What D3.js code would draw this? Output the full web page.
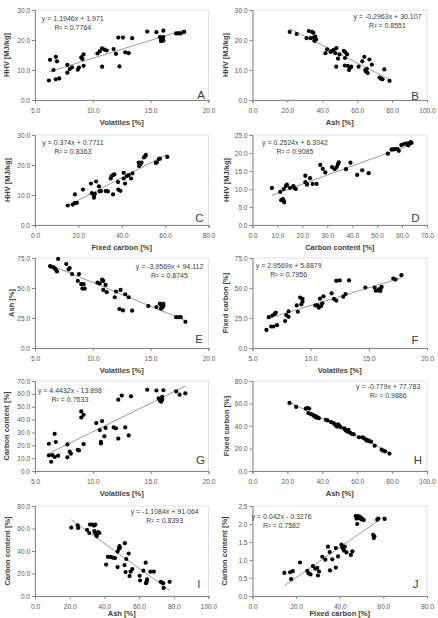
<!DOCTYPE html>
<html>
<head>
<meta charset="utf-8">
<script src="https://cdn.jsdelivr.net/npm/d3@7"></script>
<style>
  body { margin: 0; background: #fff; }
  svg { display: block; }
  text { font-family: "Liberation Sans", Arial, sans-serif; }
</style>
</head>
<body>
<svg id="chart" width="438" height="618"></svg>
<script>
// ---- data: [x, y] per sample ----
const ptsA = [[6.2,6.5],[6.3,13.4],[6.6,10.0],[6.8,14.4],[6.8,6.9],[6.9,12.9],[7.1,7.2],[7.8,11.7],[7.8,9.1],[8.0,10.3],[8.2,10.9],[8.7,10.1],[8.8,10.8],[9.0,14.2],[9.1,13.7],[9.2,15.2],[9.2,11.4],[10.4,15.5],[10.6,16.2],[10.8,17.2],[10.8,11.1],[11.0,16.8],[11.2,16.5],[11.8,17.0],[12.0,15.4],[12.2,20.8],[12.3,11.2],[12.6,20.8],[12.8,15.9],[13.1,15.6],[13.4,20.6],[14.7,22.8],[15.5,22.6],[15.8,21.0],[15.9,19.6],[15.9,20.1],[16.0,20.8],[16.1,19.8],[16.1,21.0],[16.1,23.1],[17.2,22.2],[17.4,22.2],[17.6,22.2],[17.9,22.7]];
const ptsB = [[21.3,22.7],[25.3,22.0],[31.0,20.6],[32.3,23.0],[33.3,20.6],[34.2,22.7],[34.9,22.4],[35.1,20.8],[35.5,19.7],[36.0,21.1],[36.4,20.2],[41.8,15.6],[42.8,16.9],[44.7,16.0],[45.5,16.3],[46.5,16.7],[47.5,15.6],[48.1,17.3],[48.0,11.1],[49.0,13.8],[49.9,15.2],[52.3,16.4],[53.2,15.9],[53.0,14.0],[54.2,15.2],[52.9,11.5],[54.5,11.4],[55.3,10.0],[56.0,10.8],[56.6,11.1],[60.8,11.1],[62.9,12.9],[64.1,14.4],[64.6,10.0],[65.0,9.5],[65.5,10.4],[66.0,9.0],[67.0,13.5],[68.4,11.8],[72.8,7.5],[73.7,7.1],[74.5,6.9],[75.5,10.2],[78.5,6.4]];
const ptsC = [[15.1,6.5],[17.4,6.8],[18.4,7.4],[18.4,10.2],[19.3,7.4],[22.1,11.8],[25.8,13.8],[26.2,10.6],[27.2,9.9],[27.6,10.4],[27.2,9.1],[28.2,14.5],[29.5,12.9],[29.8,11.2],[30.4,11.3],[32.6,11.3],[33.6,11.2],[34.9,15.5],[35.3,16.3],[36.0,16.6],[36.6,16.9],[36.0,10.2],[38.3,14.3],[38.4,11.8],[39.4,11.4],[40.9,17.4],[40.9,15.5],[41.5,13.8],[42.3,16.3],[43.1,16.6],[44.3,15.5],[44.9,17.2],[47.8,20.8],[48.0,19.7],[48.5,20.2],[49.1,20.8],[50.2,22.5],[50.8,22.9],[51.1,23.4],[55.7,20.7],[56.2,20.9],[57.1,22.0],[57.6,22.1],[61.0,22.7]];
const ptsD = [[7.8,10.3],[11.1,9.2],[11.5,6.9],[12.2,7.2],[12.5,6.8],[12.7,6.3],[12.5,10.0],[13.4,10.8],[13.8,11.2],[15.0,10.3],[16.4,10.8],[16.8,10.3],[17.4,10.0],[21.2,13.7],[21.2,11.9],[21.7,11.5],[21.9,11.2],[23.1,13.0],[24.1,11.4],[25.7,11.4],[27.2,16.7],[28.2,15.6],[29.2,14.6],[31.9,16.1],[33.0,15.5],[33.8,16.1],[34.3,16.9],[34.6,17.4],[37.5,15.5],[39.3,17.3],[42.0,13.9],[44.0,15.2],[46.6,14.4],[54.3,19.8],[55.8,21.0],[56.6,21.0],[57.4,21.1],[58.2,21.1],[58.7,20.6],[59.7,22.2],[60.7,22.5],[61.7,22.7],[62.5,22.1],[63.0,22.7],[63.4,23.0],[63.8,22.8]];
const ptsE = [[6.3,68.3],[6.4,67.7],[6.6,67.2],[6.7,66.4],[6.8,65.3],[6.9,63.8],[7.0,74.2],[7.7,70.0],[7.9,65.5],[8.0,66.6],[8.2,61.6],[8.7,55.9],[8.8,61.6],[9.0,53.2],[9.1,49.5],[9.2,53.2],[9.3,49.5],[10.4,54.6],[10.6,53.8],[10.8,56.9],[10.9,55.9],[10.9,48.4],[11.1,52.6],[11.2,46.5],[11.9,42.3],[12.0,47.0],[12.4,48.4],[12.3,32.5],[12.6,31.3],[12.8,44.8],[13.1,42.3],[13.4,31.1],[14.8,35.0],[15.5,34.1],[15.8,36.9],[15.9,35.8],[15.9,32.8],[16.0,33.6],[16.1,35.0],[16.1,36.7],[17.2,25.7],[17.5,25.7],[17.6,25.7],[18.0,21.8]];
const ptsF = [[6.2,15.1],[6.4,25.7],[6.6,17.9],[6.7,27.1],[6.8,17.9],[6.9,28.3],[7.0,29.4],[7.1,19.0],[7.8,22.4],[7.9,27.4],[8.1,26.0],[8.1,30.5],[8.8,35.5],[8.9,30.2],[9.1,42.0],[9.2,36.4],[9.3,38.6],[9.3,41.0],[10.4,35.5],[10.6,35.5],[10.7,33.6],[10.8,41.1],[10.9,35.0],[11.0,37.2],[11.1,43.1],[11.8,45.6],[12.0,40.9],[12.2,39.5],[12.2,56.0],[12.5,56.3],[12.8,42.8],[13.0,45.0],[13.3,56.3],[14.7,50.4],[15.5,50.4],[15.6,47.8],[15.8,48.1],[15.9,48.9],[16.0,49.8],[16.0,47.6],[16.1,50.9],[17.1,57.9],[17.3,57.0],[17.8,60.7]];
const ptsG = [[6.2,12.1],[6.2,21.2],[6.4,7.2],[6.5,12.4],[6.7,28.9],[6.7,10.9],[6.8,22.5],[7.0,11.9],[7.8,10.6],[7.8,20.7],[8.0,15.0],[8.1,13.5],[8.7,16.5],[8.8,16.0],[9.0,46.3],[9.0,41.6],[9.2,43.7],[9.2,20.9],[10.3,37.3],[10.6,31.8],[10.8,38.8],[10.7,22.7],[10.7,21.4],[11.0,27.0],[11.1,33.5],[11.8,33.9],[12.0,33.2],[12.2,55.5],[12.2,25.2],[12.5,58.7],[12.8,33.9],[13.1,27.7],[13.3,58.1],[14.7,63.2],[15.5,62.6],[15.7,56.6],[15.8,54.8],[15.9,53.9],[16.0,55.5],[16.0,57.6],[16.1,62.8],[17.2,62.0],[17.5,59.4],[18.0,60.4]];
const ptsH = [[21.2,60.5],[25.0,57.0],[30.5,55.5],[31.5,56.0],[32.5,55.5],[32.0,51.5],[33.5,50.5],[34.5,50.0],[35.5,48.5],[36.0,49.0],[36.5,47.5],[37.0,48.0],[38.0,47.0],[42.0,45.5],[43.0,45.0],[45.0,43.5],[46.5,42.5],[47.5,41.0],[48.0,40.0],[48.5,39.5],[49.0,41.5],[49.5,40.5],[50.5,39.0],[52.5,38.0],[53.0,37.0],[53.5,36.0],[54.5,35.0],[55.0,36.5],[56.0,34.0],[57.0,33.0],[58.0,32.5],[61.0,30.0],[63.0,30.0],[64.0,29.0],[65.0,28.0],[65.5,27.0],[66.0,27.5],[67.0,26.5],[68.0,26.0],[70.0,22.5],[74.0,19.0],[75.0,18.0],[76.0,17.5],[78.5,15.5]];
const ptsI = [[20.9,60.8],[24.6,62.9],[24.9,60.5],[30.0,58.7],[31.3,56.0],[31.7,63.5],[33.1,63.5],[34.0,62.6],[34.8,63.5],[34.2,57.8],[34.6,56.3],[35.2,54.8],[35.6,53.3],[36.4,56.9],[37.1,56.0],[41.0,27.9],[42.0,34.8],[43.5,34.8],[44.9,34.1],[46.1,33.8],[47.6,25.7],[47.6,39.5],[48.4,41.9],[48.7,44.3],[48.9,42.8],[51.6,27.5],[51.8,47.0],[52.2,21.3],[52.6,32.9],[54.0,37.7],[54.5,17.7],[55.1,21.6],[56.1,24.0],[60.3,18.0],[60.5,13.8],[62.5,22.5],[63.8,29.6],[64.0,11.4],[64.4,12.9],[64.6,14.7],[66.5,21.6],[68.5,21.6],[72.5,12.6],[73.9,11.4],[74.1,7.2],[77.6,12.6]];
const ptsJ = [[14.6,0.64],[17.2,0.66],[17.7,0.47],[18.5,0.69],[21.8,0.93],[25.1,0.70],[25.7,0.63],[26.6,0.60],[27.7,0.83],[28.8,0.76],[29.7,0.78],[30.0,0.57],[30.5,0.68],[32.0,1.09],[33.4,1.01],[34.6,1.37],[35.4,1.22],[35.5,0.71],[36.6,1.02],[38.2,0.79],[38.2,1.33],[39.2,1.10],[40.8,1.43],[41.1,1.36],[41.5,1.31],[42.0,1.26],[42.3,1.37],[43.1,1.21],[45.1,1.14],[45.8,1.24],[47.3,2.22],[47.7,2.15],[48.0,2.00],[48.4,2.22],[48.8,2.17],[49.3,2.20],[49.8,2.13],[50.3,2.15],[51.0,2.11],[55.3,1.70],[55.6,1.61],[55.9,1.66],[57.2,2.12],[57.6,2.15],[60.6,2.14]];

const letters = ["A", "B", "C", "D", "E", "F", "G", "H", "I", "J"];
const xTitles = ["Volatiles [%]", "Ash [%]", "Fixed carbon [%]", "Carbon content [%]", "Volatiles [%]",
  "Volatiles [%]", "Volatiles [%]", "Ash [%]", "Ash [%]", "Fixed carbon [%]"];
const yTitles = ["HHV [MJ/kg]", "HHV [MJ/kg]", "HHV [MJ/kg]", "HHV [MJ/kg]", "Ash [%]",
  "Fixed carbon [%]", "Carbon content [%]", "Fixed carbon [%]", "Carbon content [%]", "Carbon content [%]"];
const slopes = [1.1946, -0.2963, 0.374, 0.2524, -3.9569, 2.9569, 4.4432, -0.779, -1.1084, 0.042];
const intercepts = [1.971, 30.107, 0.7711, 6.3042, 94.112, 5.8879, -13.898, 77.783, 91.064, -0.3276];
const eqLabels = ["y = 1.1946x + 1.971", "y = -0.2963x + 30.107", "y = 0.374x + 0.7711", "y = 0.2524x + 6.3042",
  "y = -3.9569x + 94.112", "y = 2.9569x + 5.8879", "y = 4.4432x - 13.898", "y = -0.779x + 77.783",
  "y = -1.1084x + 91.064", "y = 0.042x - 0.3276"];
const r2Labels = ["R² = 0.7764", "R² = 0.8551", "R² = 0.8363", "R² = 0.9085", "R² = 0.8745",
  "R² = 0.7956", "R² = 0.7533", "R² = 0.9886", "R² = 0.8393", "R² = 0.7582"];
const xTickVals = [[5, 10, 15, 20], [0, 20, 40, 60, 80, 100], [0, 20, 40, 60, 80], [0, 10, 20, 30, 40, 50, 60, 70],
  [5, 10, 15, 20], [5, 10, 15, 20], [5, 10, 15, 20], [0, 20, 40, 60, 80, 100], [0, 20, 40, 60, 80, 100], [0, 20, 40, 60, 80]];
const yTickVals = [[0, 10, 20, 30], [0, 10, 20, 30], [0, 10, 20, 30], [0, 5, 10, 15, 20, 25],
  [0, 25, 50, 75], [0, 25, 50, 75], [0, 10, 20, 30, 40, 50, 60, 70], [0, 20, 40, 60, 80], [0, 20, 40, 60, 80],
  [0, 0.5, 1, 1.5, 2, 2.5]];

const allPts = [ptsA, ptsB, ptsC, ptsD, ptsE, ptsF, ptsG, ptsH, ptsI, ptsJ];

// ---- layout ----
const colX = [[35, 208.5], [252.5, 427]];
const rowY = [10, 135, 258, 381, 506];
const plotH = 90;
const eqPos = [[72.8, 18.3], [387.5, 16.7], [72.9, 142.7], [295, 142.3], [169.5, 266.7],
  [288.7, 265.7], [69.9, 390.7], [388.2, 386.7], [164.7, 511.7], [281.5, 516.7]];
const letterPos = [[205, 99.3], [419, 99.5], [203.5, 222], [419.5, 221.5], [203, 343],
  [418.5, 343.5], [205, 464], [422, 464], [200.5, 587.5], [418.5, 588]];
const yTitleX = [6.7, 225.7, 7.3, 226.3, 11.7, 225.7, 6.7, 226, 7.3, 224];

const svg = d3.select("#chart");
const fmt = d3.format(".1f");

allPts.forEach((pts, i) => {
  const [x0, x1] = colX[i % 2];
  const y0 = rowY[Math.floor(i / 2)];
  const y1 = y0 + plotH;
  const xt = xTickVals[i], yt = yTickVals[i];

  const x = d3.scaleLinear().domain([xt[0], xt[xt.length - 1]]).range([x0, x1]);
  const y = d3.scaleLinear().domain([yt[0], yt[yt.length - 1]]).range([y1, y0]);

  const g = svg.append("g");

  // plot area frame
  g.append("rect")
    .attr("x", x0).attr("y", y0)
    .attr("width", x1 - x0).attr("height", y1 - y0)
    .attr("fill", "none").attr("stroke", "#d9d9d9").attr("stroke-width", 0.8);

  // x axis
  g.append("g")
    .attr("transform", `translate(0,${y1})`)
    .call(d3.axisBottom(x).tickValues(xt).tickFormat(fmt).tickSize(3).tickPadding(5))
    .call(a => a.selectAll("path,line").attr("stroke", "#868686"))
    .call(a => a.selectAll("text").attr("fill", "#595959").attr("font-size", "6.5px")
      .attr("font-family", "'Liberation Sans', Arial, sans-serif"));

  // y axis
  g.append("g")
    .attr("transform", `translate(${x0},0)`)
    .call(d3.axisLeft(y).tickValues(yt).tickFormat(fmt).tickSize(3).tickPadding(2))
    .call(a => a.selectAll("path,line").attr("stroke", "#868686"))
    .call(a => a.selectAll("text").attr("fill", "#595959").attr("font-size", "6.5px")
      .attr("font-family", "'Liberation Sans', Arial, sans-serif"));

  // axis titles (bottom row kept inside the 618px frame)
  g.append("text")
    .attr("x", (x0 + x1) / 2).attr("y", Math.min(y1 + 24.5, 616))
    .attr("text-anchor", "middle")
    .attr("font-size", "7.5px").attr("font-weight", "bold").attr("fill", "#404040")
    .text(xTitles[i]);

  g.append("text")
    .attr("transform", `translate(${yTitleX[i] + 2.6},${(y0 + y1) / 2}) rotate(-90)`)
    .attr("text-anchor", "middle")
    .attr("font-size", "7.5px").attr("font-weight", "bold").attr("fill", "#404040")
    .text(yTitles[i]);

  // linear trendline across the data range
  const [xmin, xmax] = d3.extent(pts, d => d[0]);
  g.append("line")
    .attr("x1", x(xmin)).attr("y1", y(slopes[i] * xmin + intercepts[i]))
    .attr("x2", x(xmax)).attr("y2", y(slopes[i] * xmax + intercepts[i]))
    .attr("stroke", "#7f7f7f").attr("stroke-width", 0.8);

  // points
  g.append("g")
    .selectAll("circle")
    .data(pts)
    .join("circle")
      .attr("cx", d => x(d[0]))
      .attr("cy", d => y(d[1]))
      .attr("r", 2.1)
      .attr("fill", "#000");

  // equation + R²
  const [ex, ey] = eqPos[i];
  g.append("text")
    .attr("x", ex).attr("y", ey + 2.4)
    .attr("text-anchor", "middle")
    .attr("font-size", "7px").attr("fill", "#404040")
    .text(eqLabels[i]);
  g.append("text")
    .attr("x", ex).attr("y", ey + 11.4)
    .attr("text-anchor", "middle")
    .attr("font-size", "7px").attr("fill", "#404040")
    .text(r2Labels[i]);

  // panel letter
  g.append("text")
    .attr("x", letterPos[i][0]).attr("y", letterPos[i][1])
    .attr("text-anchor", "end")
    .attr("font-size", "11.5px").attr("fill", "#404040")
    .text(letters[i]);
});
</script>
</body>
</html>
